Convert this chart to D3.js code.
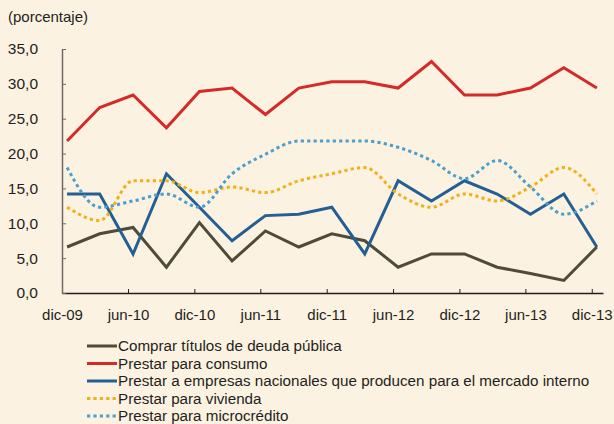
<!DOCTYPE html>
<html>
<head>
<meta charset="utf-8">
<script src="https://d3js.org/d3.v7.min.js"></script>
<style>
  body { margin: 0; background: #fcf2e2; }
  svg { display: block; }
  text { font-family: "Liberation Sans", Arial, sans-serif; fill: #231f20; }
</style>
</head>
<body>
<div id="chart"></div>
<script>
// quarterly observations, dic-09 .. dic-13
var quarters = ["dic-09","mar-10","jun-10","sep-10","dic-10","mar-11","jun-11","sep-11","dic-11",
                "mar-12","jun-12","sep-12","dic-12","mar-13","jun-13","sep-13","dic-13"];
var tickLabels = ["dic-09","jun-10","dic-10","jun-11","dic-11","jun-12","dic-12","jun-13","dic-13"];
var yTicks = [0, 5, 10, 15, 20, 25, 30, 35];

var deudaPublica = [6.6, 8.5, 9.4, 3.7, 10.1, 4.6, 8.9, 6.6, 8.5, 7.5, 3.7, 5.6, 5.6, 3.7, 2.8, 1.8, 6.6];
var consumo      = [21.8, 26.6, 28.4, 23.7, 28.9, 29.4, 25.6, 29.4, 30.3, 30.3, 29.4, 33.2, 28.4, 28.4, 29.4, 32.3, 29.4];
var empresas     = [14.2, 14.2, 5.6, 17.1, 12.3, 7.5, 11.1, 11.3, 12.3, 5.6, 16.1, 13.2, 16.1, 14.2, 11.3, 14.2, 6.6];
var vivienda     = [12.3, 10.4, 16.1, 16.1, 14.4, 15.2, 14.4, 16.1, 17.1, 18.0, 14.2, 12.3, 14.2, 13.2, 15.2, 18.0, 14.2];
var microcredito = [18.0, 12.3, 13.2, 14.2, 12.3, 17.1, 19.9, 21.8, 21.8, 21.8, 20.9, 19.0, 16.4, 19.0, 15.2, 11.3, 13.2];

var seriesNames = ["Comprar títulos de deuda pública", "Prestar para consumo",
  "Prestar a empresas nacionales que producen para el mercado interno",
  "Prestar para vivienda", "Prestar para microcrédito"];
var seriesValues = [deudaPublica, consumo, empresas, vivienda, microcredito];
var seriesColors = ["#4f4b36", "#d42a2a", "#235f92", "#f0b017", "#4a9fcf"];
var seriesDotted = [false, false, false, true, true];

var W = 614, H = 424;
var svg = d3.select("#chart").append("svg").attr("width", W).attr("height", H);

// observation dates: middle of the quarter-end month
var parse = d3.timeParse("%Y-%m-%d");
var dates = quarters.map(function(q, i) {
  var m = 11 + 3 * i;
  return new Date(2009 + Math.floor(m / 12), m % 12, 15);
});
var tickDates = tickLabels.map(function(t, i) {
  var m = 11 + 6 * i;
  return new Date(2009 + Math.floor(m / 12), m % 12, 1);
});

var x = d3.scaleTime()
  .domain([parse("2009-12-01"), parse("2014-01-01")])
  .range([62, 603]);
var y = d3.scaleLinear().domain([0, 35]).range([293, 49]);

// x axis
var xAxis = d3.axisBottom(x)
  .tickValues(tickDates)
  .tickSizeInner(-4).tickSizeOuter(0)
  .tickFormat(function(d, i) { return tickLabels[i]; });
var gx = svg.append("g").attr("transform", "translate(0,293)").call(xAxis);
gx.select(".domain").attr("stroke", "#231f20").attr("stroke-width", 1.5);
gx.selectAll(".tick line").attr("stroke", "#231f20");
gx.selectAll(".tick text").attr("y", 16).attr("dy", "0.71em")
  .style("font-size", "15px").attr("fill", "#231f20");

// y axis
var yAxis = d3.axisLeft(y)
  .tickValues(yTicks)
  .tickSizeInner(-4).tickSizeOuter(0)
  .tickFormat(function(d) { return d3.format(".1f")(d).replace(".", ","); });
var gy = svg.append("g").attr("transform", "translate(62,0)").call(yAxis);
gy.select(".domain").attr("stroke", "#6d6a62").attr("stroke-width", 1.5);
gy.selectAll(".tick line").attr("stroke", "#6d6a62");
gy.selectAll(".tick text").attr("x", -24).style("font-size", "15.5px").attr("fill", "#231f20");

svg.append("text").attr("x", 8).attr("y", 22)
  .style("font-size", "15px").text("(porcentaje)");

// lines
seriesValues.forEach(function(vals, s) {
  var line = d3.line()
    .x(function(d, i) { return x(dates[i]); })
    .y(function(d) { return y(d); })
    .curve(seriesDotted[s] ? d3.curveMonotoneX : d3.curveLinear);
  svg.append("path")
    .attr("d", line(vals))
    .attr("fill", "none")
    .attr("stroke", seriesColors[s])
    .attr("stroke-width", 3)
    .attr("stroke-dasharray", seriesDotted[s] ? "3.2 3.2" : null);
});

// legend
var legend = svg.append("g");
seriesNames.forEach(function(name, s) {
  var ly = 346 + s * 17.5;
  legend.append("line")
    .attr("x1", 87).attr("x2", 117).attr("y1", ly).attr("y2", ly)
    .attr("stroke", seriesColors[s]).attr("stroke-width", 3)
    .attr("stroke-dasharray", seriesDotted[s] ? "3.2 3.2" : null);
  legend.append("text")
    .attr("x", 118).attr("y", ly).attr("dy", "0.35em")
    .style("font-size", "15.2px").text(name);
});
</script>
</body>
</html>
